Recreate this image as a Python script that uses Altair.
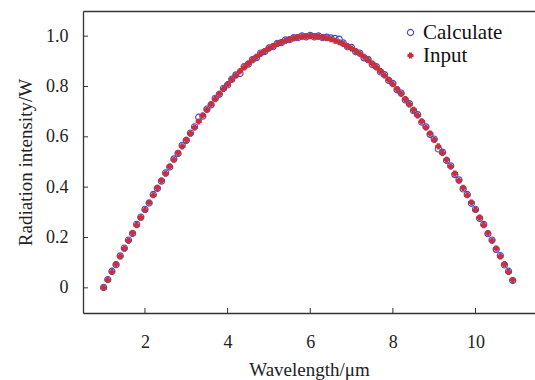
import altair as alt
import pandas as pd

wavelength = [1.0, 1.1, 1.2, 1.3, 1.4, 1.5, 1.6, 1.7, 1.8, 1.9,
              2.0, 2.1, 2.2, 2.3, 2.4, 2.5, 2.6, 2.7, 2.8, 2.9,
              3.0, 3.1, 3.2, 3.3, 3.4, 3.5, 3.6, 3.7, 3.8, 3.9,
              4.0, 4.1, 4.2, 4.3, 4.4, 4.5, 4.6, 4.7, 4.8, 4.9,
              5.0, 5.1, 5.2, 5.3, 5.4, 5.5, 5.6, 5.7, 5.8, 5.9,
              6.0, 6.1, 6.2, 6.3, 6.4, 6.5, 6.6, 6.7, 6.8, 6.9,
              7.0, 7.1, 7.2, 7.3, 7.4, 7.5, 7.6, 7.7, 7.8, 7.9,
              8.0, 8.1, 8.2, 8.3, 8.4, 8.5, 8.6, 8.7, 8.8, 8.9,
              9.0, 9.1, 9.2, 9.3, 9.4, 9.5, 9.6, 9.7, 9.8, 9.9,
              10.0, 10.1, 10.2, 10.3, 10.4, 10.5, 10.6, 10.7, 10.8, 10.9]

input_vals = [0.000, 0.031, 0.063, 0.094, 0.125, 0.156, 0.187, 0.218, 0.249, 0.279,
              0.309, 0.339, 0.368, 0.397, 0.426, 0.454, 0.482, 0.509, 0.536, 0.562,
              0.588, 0.613, 0.637, 0.661, 0.685, 0.707, 0.729, 0.750, 0.771, 0.790,
              0.809, 0.827, 0.844, 0.861, 0.876, 0.891, 0.905, 0.918, 0.930, 0.941,
              0.951, 0.960, 0.969, 0.976, 0.982, 0.988, 0.992, 0.996, 0.998, 0.999,
              1.000, 0.999, 0.998, 0.996, 0.992, 0.988, 0.982, 0.976, 0.969, 0.960,
              0.951, 0.941, 0.930, 0.918, 0.905, 0.891, 0.876, 0.861, 0.844, 0.827,
              0.809, 0.790, 0.771, 0.750, 0.729, 0.707, 0.685, 0.661, 0.637, 0.613,
              0.588, 0.562, 0.536, 0.509, 0.482, 0.454, 0.426, 0.397, 0.368, 0.339,
              0.309, 0.279, 0.249, 0.218, 0.187, 0.156, 0.125, 0.094, 0.063, 0.031]

calc_vals = [0.002, 0.033, 0.066, 0.092, 0.127, 0.158, 0.190, 0.216, 0.252, 0.281,
             0.312, 0.337, 0.371, 0.395, 0.424, 0.457, 0.480, 0.512, 0.534, 0.566,
             0.586, 0.615, 0.640, 0.678, 0.682, 0.710, 0.727, 0.753, 0.769, 0.793,
             0.806, 0.829, 0.846, 0.852, 0.879, 0.889, 0.907, 0.915, 0.933, 0.939,
             0.953, 0.958, 0.971, 0.974, 0.985, 0.986, 0.994, 0.994, 1.001, 0.997,
             1.003, 0.997, 1.001, 0.994, 0.996, 0.993, 0.991, 0.988, 0.973, 0.958,
             0.955, 0.938, 0.933, 0.914, 0.908, 0.888, 0.879, 0.858, 0.847, 0.824,
             0.812, 0.787, 0.774, 0.747, 0.732, 0.704, 0.688, 0.658, 0.640, 0.610,
             0.591, 0.552, 0.539, 0.506, 0.485, 0.450, 0.429, 0.393, 0.371, 0.336,
             0.312, 0.276, 0.252, 0.215, 0.190, 0.153, 0.128, 0.091, 0.066, 0.029]

series_names = ["Calculate", "Input"]
x_ticks = [2, 4, 6, 8, 10]
y_ticks = [0, 0.2, 0.4, 0.6, 0.8, 1.0]

rows = []
for xv, yv in zip(wavelength, calc_vals):
    rows.append({"x": xv, "y": yv, "series": series_names[0]})
for xv, yv in zip(wavelength, input_vals):
    rows.append({"x": xv, "y": yv, "series": series_names[1]})
df = pd.DataFrame(rows)
xtick_df = pd.DataFrame({"t": x_ticks})
ytick_df = pd.DataFrame({"y": y_ticks})

FONT = "Liberation Serif, Times New Roman, serif"
BLUE = "#4848c0"
RED = "#c8303c"
AXC = "#333333"

xscale = alt.Scale(domain=[0.5, 11.44], nice=False, zero=False)
yscale = alt.Scale(domain=[-0.1, 1.1], nice=False, zero=False)

y_axis = alt.Axis(values=y_ticks, title="Radiation intensity/W", grid=False,
                  ticks=False, labelPadding=15,
                  labelExpr="datum.value == 0 ? '0' : format(datum.value, '.1f')",
                  titlePadding=10)

points = alt.Chart(df).mark_point(strokeWidth=1.1, opacity=1).encode(
    x=alt.X("x:Q", scale=xscale,
            axis=alt.Axis(orient="bottom", values=x_ticks, title="Wavelength/μm", grid=False,
                          ticks=False, labelPadding=20, titlePadding=9)),
    y=alt.Y("y:Q", scale=yscale, axis=y_axis),
    shape=alt.Shape("series:N", scale=alt.Scale(domain=series_names, range=["circle", "cross"]),
                    legend=alt.Legend(title=None)),
    stroke=alt.Stroke("series:N", scale=alt.Scale(domain=series_names, range=[BLUE, RED]),
                      legend=alt.Legend(title=None)),
    fill=alt.Fill("series:N", scale=alt.Scale(domain=series_names, range=["transparent", RED]),
                  legend=alt.Legend(title=None)),
    size=alt.Size("series:N", scale=alt.Scale(domain=series_names, range=[38, 25]),
                  legend=alt.Legend(title=None)),
)

top_axis = alt.Chart(df).mark_point(opacity=0).encode(
    x=alt.X("x:Q", scale=xscale,
            axis=alt.Axis(orient="top", labels=False, ticks=False, title=None, grid=False)),
    y=alt.Y("y:Q", scale=yscale, axis=y_axis),
)

xticks = alt.Chart(xtick_df).mark_rule(color=AXC, strokeWidth=1).encode(
    x=alt.X("t:Q", scale=xscale, axis=None),
    y=alt.value(302), y2=alt.value(297),
)
yticks = alt.Chart(ytick_df).mark_rule(color=AXC, strokeWidth=1).encode(
    y=alt.Y("y:Q", scale=yscale, axis=y_axis),
    x=alt.value(0), x2=alt.value(5),
)

chart = alt.layer(points, top_axis, xticks, yticks).resolve_axis(x="independent").properties(
    width=452, height=302,
    autosize=alt.AutoSizeParams(type="none"),
    padding={"left": 83, "top": 11, "right": 0, "bottom": 67},
    background="white",
).configure_view(stroke=None).configure_axis(
    labelFont=FONT, titleFont=FONT, labelFontSize=18, titleFontSize=19,
    labelColor="#222222", titleColor="#222222", titleFontWeight="normal",
    domainColor=AXC, domainWidth=1.3,
).configure_legend(
    orient="none", legendX=317, legendY=11, padding=0,
    labelFont=FONT, labelFontSize=21, labelColor="#111111",
    labelOffset=2, rowPadding=1, symbolStrokeWidth=1.1,
)

chart.save("out.html", embed_options={"renderer": "svg", "actions": False})
